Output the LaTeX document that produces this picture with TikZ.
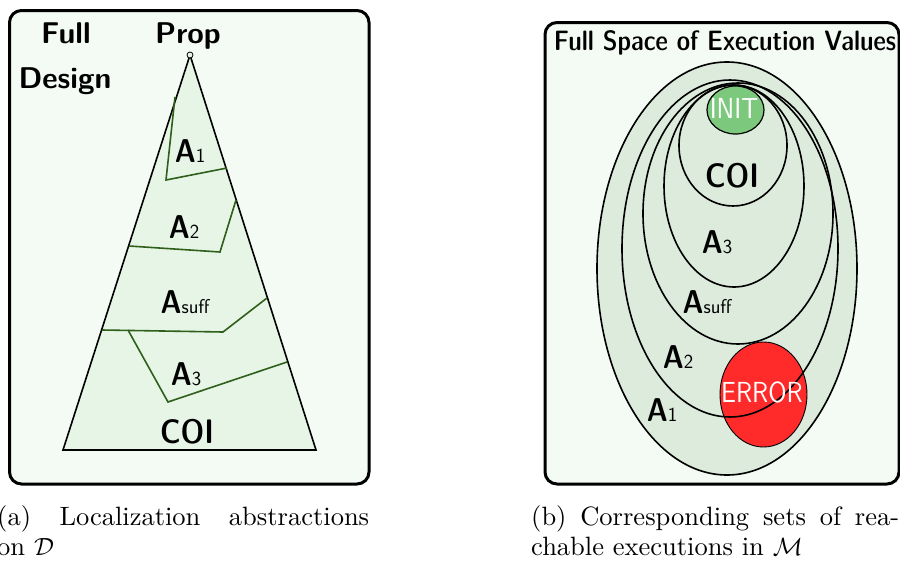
\documentclass[tikz,border=0pt]{standalone}
\usepackage{fontspec}
\usepackage{graphicx}
\newfontfamily\lmdc[Extension=.otf]{lmsansdemicond10-regular}
\newfontfamily\capfont[Extension=.otf, Ligatures=TeX]{lmroman10-regular}
\newfontfamily\lmsreg[Extension=.otf]{lmsans10-regular}
\definecolor{boxfill}{HTML}{F4FAF4}
\definecolor{trifill}{HTML}{E6F5E6}
\definecolor{ellfill}{HTML}{DCEBDC}
\definecolor{initfill}{HTML}{7CC87C}
\definecolor{errfill}{HTML}{FF2B2B}
\definecolor{dgreen}{HTML}{2F5F1A}
\newcommand\sbx[1]{{\sffamily\mdseries\fontsize{20}{20}\selectfont #1}}
\newcommand\narrow[1]{\scalebox{0.86}[1]{#1}}
\tikzset{
  panel/.style={draw=black, line width=3pt, rounded corners=12pt, fill=boxfill},
  head/.style={font=\sffamily\bfseries\fontsize{30}{36}\selectfont, anchor=base, inner sep=0pt},
  title/.style={font=\lmdc\fontsize{28}{32}\selectfont, anchor=base, inner sep=0pt},
  lab/.style={font=\lmdc\fontsize{33}{38}\selectfont, anchor=base, inner sep=0pt},
  biglab/.style={font=\lmdc\fontsize{34}{40}\selectfont, anchor=base, inner sep=0pt},
  inlab/.style={font=\lmsreg\fontsize{29}{34}\selectfont, text=white, anchor=base, inner sep=0pt},
  capline/.style={font=\capfont\fontsize{26.5}{31}\selectfont, anchor=base west, inner sep=0pt},
  cutline/.style={draw=dgreen, line width=1.6pt},
  setline/.style={draw=black, line width=1.6pt},
}
\begin{document}
\begin{tikzpicture}[x=1pt,y=-1pt]
\useasboundingbox (0,0) rectangle (900,560);
% ---------- left panel ----------
\draw[panel] (9.5,10.5) rectangle (369,484);
\draw[fill=trifill, line width=1.6pt] (190,55) -- (316,450) -- (63,450) -- cycle;
\draw[cutline] (175,97) -- (166,180) -- (227,168);
\draw[cutline] (236,200) -- (220,252) -- (129,246);
\draw[cutline] (267,298) -- (223,332) -- (102,330);
\draw[cutline] (128,330) -- (168,402) -- (287,362);
\draw[fill=trifill, line width=0.8pt] (190,55) circle (3);
\node[head] (full) at (66,43) {Full};
\node[head] (design) at (65,88) {Design};
\node[head] (prop) at (188,43) {Prop};
\node[lab] (la1) at (190,162) {A\sbx{1}};
\node[lab] (la2) at (184,238) {A\sbx{2}};
\node[lab] (lasuff) at (185,313) {A\sbx{suff}};
\node[lab] (la3) at (186,385) {A\sbx{3}};
\node[biglab] (lcoi) at (187,443) {COI};
% ---------- right panel ----------
\draw[panel] (545,22.5) rectangle (899,484);
\path[fill=ellfill] (727,268.5) ellipse [x radius=130, y radius=206.5];
\path[fill=ellfill] (730,248.5) ellipse [x radius=108, y radius=168.5];
\path[fill=ellfill] (738,213.5) ellipse [x radius=95, y radius=130.5];
\path[fill=ellfill] (734,186) ellipse [x radius=70, y radius=101];
\path[fill=ellfill] (733,145.5) ellipse [x radius=54, y radius=60.5];
\draw[fill=errfill, line width=0.9pt] (763.5,394.5) ellipse [x radius=43.5, y radius=52.5];
\draw[setline] (727,268.5) ellipse [x radius=130, y radius=206.5];
\draw[setline] (730,248.5) ellipse [x radius=108, y radius=168.5];
\draw[setline] (738,213.5) ellipse [x radius=95, y radius=130.5];
\draw[setline] (734,186) ellipse [x radius=70, y radius=101];
\draw[setline] (733,145.5) ellipse [x radius=54, y radius=60.5];
\draw[fill=initfill, line width=1.2pt] (735.5,110) ellipse [x radius=28.5, y radius=24];
\node[title] (ttl) at (725,50) {Full Space of Execution Values};
\node[inlab] (init) at (734,118) {\narrow{INIT}};
\node[biglab] (rcoi) at (732,187) {COI};
\node[lab] (ra3) at (717,253) {A\sbx{3}};
\node[lab] (rasuff) at (707,313) {A\sbx{suff}};
\node[lab] (ra2) at (678,368) {A\sbx{2}};
\node[lab] (ra1) at (662,421) {A\sbx{1}};
\node[inlab] (err) at (762,402) {\narrow{ERROR}};
% ---------- captions ----------
\node[capline] (capa1) at (-3,525) {\makebox[372pt][s]{(a) Localization abstractions}};
\node[capline] (capa2) at (-3,555) {on $\mathcal{D}$};
\node[capline] (capb1) at (531,525) {\makebox[368pt][s]{(b) Corresponding sets of rea-}};
\node[capline] (capb2) at (531,555) {chable executions in $\mathcal{M}$};
\end{tikzpicture}
\end{document}
